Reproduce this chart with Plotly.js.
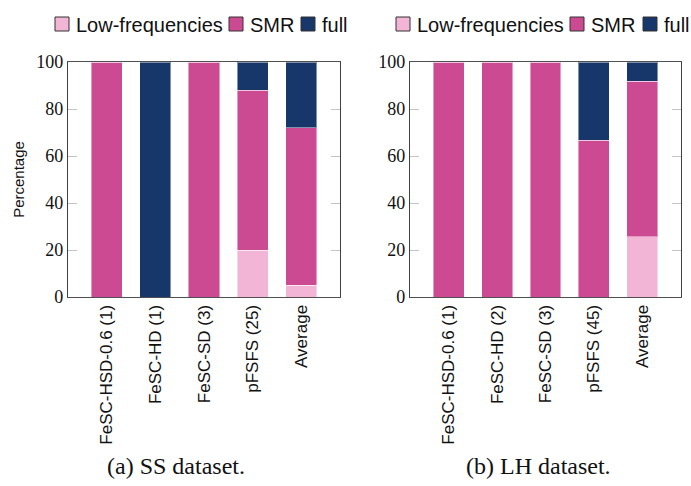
<!DOCTYPE html>
<html>
<head>
<meta charset="utf-8">
<script src="https://cdn.plot.ly/plotly-3.0.1.min.js"></script>
<style>html,body{margin:0;padding:0;background:#fff;}#chart{width:691px;height:486px;}</style>
</head>
<body>
<div id="chart"></div>
<script>
// Data
const categoriesSS = ["FeSC-HSD-0.6 (1)", "FeSC-HD (1)", "FeSC-SD (3)", "pFSFS (25)", "Average"];
const lowSS  = [0, 0, 0, 20, 5];
const smrSS  = [100, 0, 100, 68, 67];
const fullSS = [0, 100, 0, 12, 28];

const categoriesLH = ["FeSC-HSD-0.6 (1)", "FeSC-HD (2)", "FeSC-SD (3)", "pFSFS (45)", "Average"];
const lowLH  = [0, 0, 0, 0, 25.6];
const smrLH  = [100, 100, 100, 66.7, 66.3];
const fullLH = [0, 0, 0, 33.3, 8.1];

const seriesNames = ["Low-frequencies", "SMR", "full"];
const yTicks = [0, 20, 40, 60, 80, 100];
const captions = ["(a) SS dataset.", "(b) LH dataset."];

// Styles
const colors = ["#f3b5d5", "#cc4a92", "#17376b"];
const W = 691, H = 486;
const px = v => v / W, py = v => 1 - v / H;

function mk(cats, vals, i, xa, ya) {
  return {
    type: "bar", x: cats, y: vals, name: seriesNames[i],
    xaxis: xa, yaxis: ya, showlegend: false,
    width: 0.64,
    marker: {color: colors[i], line: {color: "rgba(255,255,255,0.45)", width: 1}},
    hoverinfo: "x+y+name"
  };
}

const traces = [
  mk(categoriesSS, lowSS, 0, "x", "y"),
  mk(categoriesSS, smrSS, 1, "x", "y"),
  mk(categoriesSS, fullSS, 2, "x", "y"),
  mk(categoriesLH, lowLH, 0, "x2", "y2"),
  mk(categoriesLH, smrLH, 1, "x2", "y2"),
  mk(categoriesLH, fullLH, 2, "x2", "y2")
];

const sansFont = "Liberation Sans, Arial, sans-serif";
const serifFont = "Liberation Serif, Times New Roman, serif";

function xax(d0, d1, anchor) {
  return {
    domain: [px(d0), px(d1)], anchor: anchor, type: "category",
    range: [-0.8, 4.8], tickangle: -90, ticks: "",
    showline: true, mirror: true, linecolor: "#505050", linewidth: 1.2,
    showgrid: false, zeroline: false, automargin: false,
    tickfont: {family: sansFont, size: 17, color: "#111"}, fixedrange: true
  };
}
function yax(anchor, withTitle) {
  const a = {
    domain: [py(297), py(62)], anchor: anchor, range: [0, 100],
    tickmode: "array", tickvals: yTicks, ticktext: yTicks.map(String),
    ticks: "inside", ticklen: 9, tickcolor: "#c4c4c4", tickwidth: 1.3,
    showline: true, mirror: "ticks", linecolor: "#404040", linewidth: 1.2,
    showgrid: false, zeroline: false, automargin: false,
    tickfont: {family: serifFont, size: 18, color: "#111"}, fixedrange: true
  };
  if (withTitle) a.title = {text: "Percentage", font: {family: sansFont, size: 15, color: "#111"}, standoff: 8};
  return a;
}

// Legend (one per panel), drawn as boxes + text in paper space
const legendBoxes = [[55, 229, 301], [396, 570, 643]];
const legendTexts = [[74, 248, 320], [415, 589, 662]];
const shapes = [], annotations = [];
legendBoxes.forEach((row, p) => {
  row.forEach((x0, i) => {
    shapes.push({type: "rect", xref: "paper", yref: "paper",
      x0: px(x0), x1: px(x0 + 14), y0: py(31), y1: py(17),
      fillcolor: colors[i], line: {color: "#333", width: 1}});
    annotations.push({text: seriesNames[i], xref: "paper", yref: "paper",
      x: px(legendTexts[p][i]), y: py(25), xanchor: "left", yanchor: "middle",
      showarrow: false, font: {family: sansFont, size: 20, color: "#111"}});
  });
});
annotations.push(
  {text: captions[0], xref: "paper", yref: "paper", x: px(176), y: py(466), xanchor: "center", yanchor: "middle", showarrow: false, font: {family: serifFont, size: 24, color: "#111"}},
  {text: captions[1], xref: "paper", yref: "paper", x: px(538), y: py(466), xanchor: "center", yanchor: "middle", showarrow: false, font: {family: serifFont, size: 24, color: "#111"}}
);

const layout = {
  width: W, height: H,
  margin: {l: 0, r: 0, t: 0, b: 0, autoexpand: false},
  paper_bgcolor: "#fff", plot_bgcolor: "#fff",
  barmode: "stack", bargap: 0.36,
  showlegend: false,
  xaxis: xax(68, 340, "y"),
  yaxis: yax("x", true),
  xaxis2: xax(410, 681, "y2"),
  yaxis2: yax("x2", false),
  shapes: shapes,
  annotations: annotations
};

Plotly.newPlot("chart", traces, layout, {displayModeBar: false});
</script>
</body>
</html>
